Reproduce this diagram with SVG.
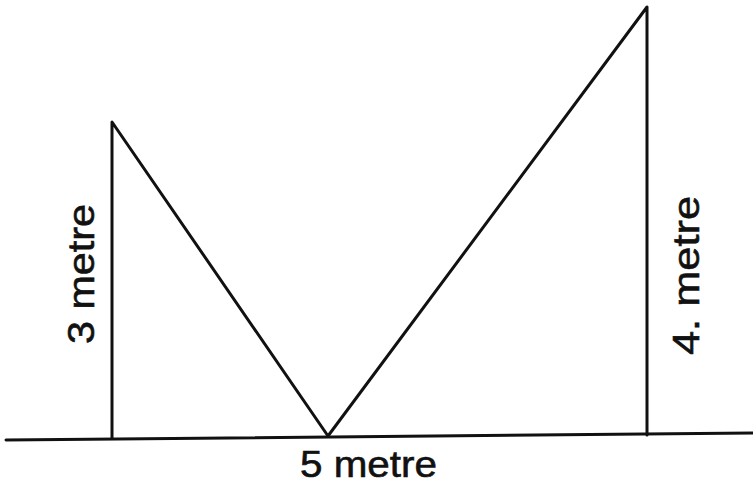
<svg xmlns="http://www.w3.org/2000/svg" width="753" height="486" viewBox="0 0 753 486">
<style>
.ln{stroke:#111;stroke-width:3;fill:none;stroke-linecap:round;stroke-linejoin:round}
.lb{font-family:"Liberation Sans",Arial,sans-serif;font-size:37px;fill:#111;stroke:#111;stroke-width:0.6}
</style>
<rect width="753" height="486" fill="#fff"/>
<g id="figure">
<path class="ln" d="M6 440 L753 433"/>
<path class="ln" d="M112 438 L112 122 L328 436 L647 7 L647 435"/>
</g>
<g id="labels">
<text class="lb" transform="translate(94,344) rotate(-90)" textLength="140" lengthAdjust="spacingAndGlyphs">3  metre</text>
<text class="lb" transform="translate(699,355) rotate(-90)" textLength="159" lengthAdjust="spacingAndGlyphs">4. metre</text>
<text class="lb" x="300" y="477" textLength="137" lengthAdjust="spacingAndGlyphs">5 metre</text>
</g>
</svg>
